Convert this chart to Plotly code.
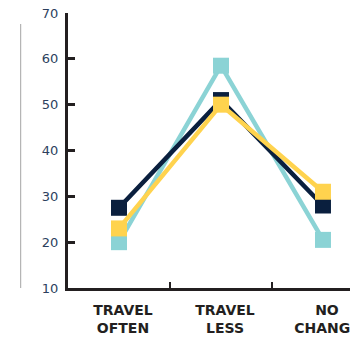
import plotly.graph_objects as go

categories = ["TRAVEL<br>OFTEN", "TRAVEL<br>LESS", "NO<br>CHANGE"]
series_names = ["Teal", "Navy", "Yellow"]
teal_values = [20, 58.5, 20.5]
navy_values = [27.5, 51, 28]
yellow_values = [23, 50, 31]
y_tick_values = [10, 20, 30, 40, 50, 60, 70]

colors = {"Teal": "#8BD3D5", "Navy": "#0A1F3E", "Yellow": "#FFD34E"}
values = {"Teal": teal_values, "Navy": navy_values, "Yellow": yellow_values}

fig = go.Figure()
for name in series_names:
    fig.add_trace(go.Scatter(
        x=categories, y=values[name], name=name, mode="lines+markers",
        line=dict(color=colors[name], width=4.5),
        marker=dict(symbol="square", size=16, color=colors[name]),
        showlegend=False, cliponaxis=False,
    ))

fig.add_shape(type="line", xref="paper", yref="y", x0=-0.168, x1=-0.168,
              y0=10, y1=67.6, line=dict(color="#B4B4B4", width=1.2))

fig.update_layout(
    width=350, height=343,
    margin=dict(l=68, r=0, t=13, b=55, autoexpand=False),
    paper_bgcolor="white", plot_bgcolor="white",
    xaxis=dict(
        type="category", range=[-0.5, 2.265], tickson="boundaries",
        ticks="inside", ticklen=6, tickwidth=2, tickcolor="#231F20",
        showline=True, linecolor="#231F20", linewidth=3,
        showgrid=False, zeroline=False, automargin=False,
        tickfont=dict(family="DejaVu Sans", size=14, color="#231F20", weight="bold"),
        ticklabelstandoff=7, ticklabelshift=4,
    ),
    yaxis=dict(
        range=[10, 70], tickvals=y_tick_values,
        ticks="inside", ticklen=7, tickwidth=3, tickcolor="#231F20",
        showline=True, linecolor="#231F20", linewidth=3,
        showgrid=False, zeroline=False, automargin=False,
        tickfont=dict(family="DejaVu Sans", size=13, color="#2D3F5E"),
        ticklabelstandoff=4,
    ),
)

fig.write_html("out.html")
